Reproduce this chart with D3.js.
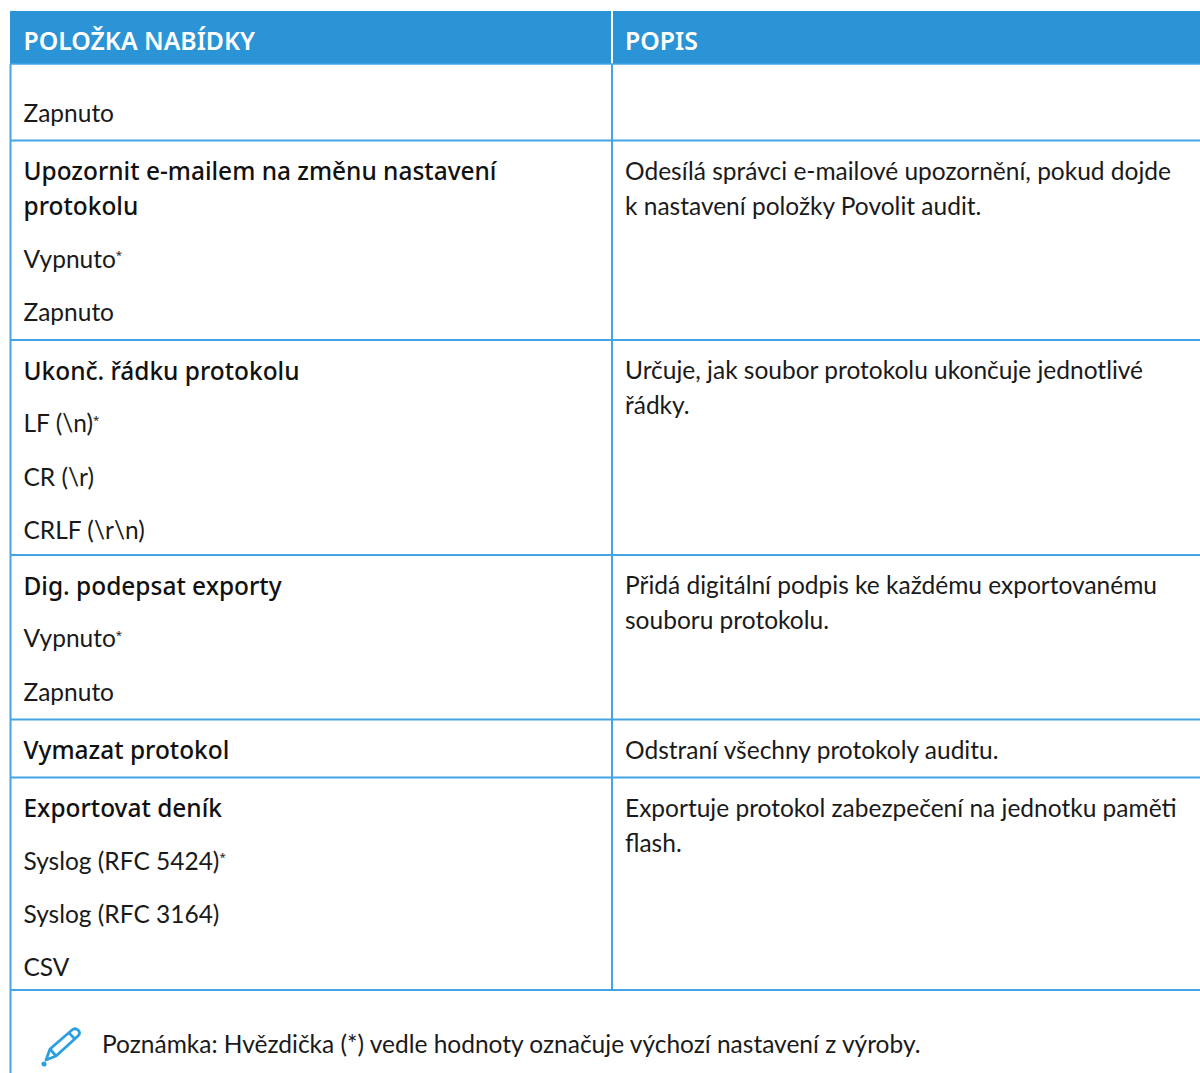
<!DOCTYPE html>
<html><head><meta charset="utf-8">
<script src="https://cdn.jsdelivr.net/npm/d3@7"></script>
<style>html,body{margin:0;padding:0;background:#fff}svg{display:block}text{font-family:Lato,"Noto Sans",sans-serif;fill:#1a1a1a}.b{font-family:"Noto Sans",sans-serif;font-weight:500;fill:#111}.h{font-family:"Noto Sans",sans-serif;font-weight:600;fill:#fff}</style>
</head><body><div id="c"></div>
<script>
const columns = ["POLOŽKA NABÍDKY", "POPIS"];
const menuTitles = [null, ["Upozornit e-mailem na změnu nastavení", "protokolu"], ["Ukonč. řádku protokolu"], ["Dig. podepsat exporty"], ["Vymazat protokol"], ["Exportovat deník"]];
const menuOptions = [["Zapnuto"], ["Vypnuto*", "Zapnuto"], ["LF (\\n)*", "CR (\\r)", "CRLF (\\r\\n)"], ["Vypnuto*", "Zapnuto"], [], ["Syslog (RFC 5424)*", "Syslog (RFC 3164)", "CSV"]];
const descriptions = [[], ["Odesílá správci e-mailové upozornění, pokud dojde", "k nastavení položky Povolit audit."], ["Určuje, jak soubor protokolu ukončuje jednotlivé", "řádky."], ["Přidá digitální podpis ke každému exportovanému", "souboru protokolu."], ["Odstraní všechny protokoly auditu."], ["Exportuje protokol zabezpečení na jednotku paměti", "flash."]];
const note = "Poznámka: Hvězdička (*) vedle hodnoty označuje výchozí nastavení z výroby.";
const rowEdges = [64, 140.5, 340, 555, 719.5, 777.5, 990];

(function () {
const W = 1200, H = 1073, blue = "#2b94d6", line = "#45a4e4";
const svg = d3.select("#c").append("svg").attr("width", W).attr("height", H);
const x = d3.scaleOrdinal().domain(columns).range([10, 612]);
const pad = 13.5, padR = 13, headTop = 11, headBottom = 64, wrapPitch = 35, paraPitch = 53.3, firstOff = 30.5, fontSize = 24.5, boldSize = 24.45, headSize = 24.8;

columns.forEach((c, i) => {
  const x0 = x(c) + (i ? 1 : 0), x1 = i ? W : x(columns[1]) - 1;
  svg.append("rect").attr("x", x0).attr("y", headTop).attr("width", x1 - x0).attr("height", headBottom - headTop).attr("fill", blue);
  svg.append("text").attr("class", "h").attr("x", x(c) + (i ? padR : pad)).attr("y", 41.5).attr("dy", "0.35em").attr("font-size", headSize).text(c);
});

function put(xp, yc, str, cls) {
  const star = str.endsWith("*");
  const t = svg.append("text").attr("class", cls).attr("x", xp).attr("y", cls ? yc + 0.5 : yc).attr("dy", "0.35em").attr("font-size", cls ? boldSize : fontSize).text(star ? str.slice(0, -1) : str);
  if (star) t.append("tspan").attr("dy", "-0.75em").attr("font-size", 11.5).style("font-family", "Noto Sans").text("*");
}
menuTitles.forEach((title, i) => {
  const rowTop = rowEdges[i];
  let y = i === 0 ? rowTop + 49 : rowTop + firstOff;
  (title || []).forEach((l, j) => { put(x(columns[0]) + pad, y, l, "b"); y += j < title.length - 1 ? wrapPitch : paraPitch; });
  menuOptions[i].forEach(o => { put(x(columns[0]) + pad, y, o, null); y += paraPitch; });
  descriptions[i].forEach((d, j) => put(x(columns[1]) + padR, rowTop + firstOff + j * wrapPitch, d, null));
});
const rule = (a, b, c, d, w) => svg.append("line").attr("x1", a).attr("y1", b).attr("x2", c).attr("y2", d).attr("stroke", line).attr("stroke-width", w);
rowEdges.forEach((b, i) => rule(10, b, W, b, i ? 2 : 1.5));
rule(10.5, headBottom, 10.5, H, 2);
rule(612, headBottom, 612, rowEdges[rowEdges.length - 1], 2);
const ic = svg.append("g").attr("transform", "translate(42,1028)").attr("fill", "none").attr("stroke", "#2b9fe0").attr("stroke-width", 2.8).attr("stroke-linejoin", "round");
ic.append("path").attr("d", "M4 32 L8 21 L30 2 Q33 -0.5 36 2 Q39 5 36 8 L14 28 Z");
ic.append("path").attr("d", "M8 21 L14 28 M27 5 L33 11");
ic.append("circle").attr("cx", 2).attr("cy", 36).attr("r", 1.2).attr("fill", "#2b9fe0");
svg.append("text").attr("x", 102).attr("y", 1044).attr("dy", "0.35em").attr("font-size", fontSize).text(note);
})();
</script></body></html>
